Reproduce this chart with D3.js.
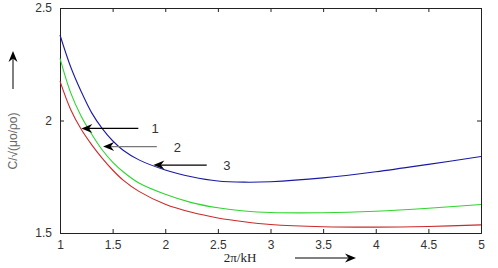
<!DOCTYPE html>
<html>
<head>
<meta charset="utf-8">
<script src="https://cdn.jsdelivr.net/npm/d3@7"></script>
<style>
  body { margin: 0; background: #fff; }
  svg { display: block; }
</style>
</head>
<body>
<div class="chart"></div>
<script>
// values
const xs    = [1, 1.1, 1.2, 1.3, 1.4, 1.5, 1.6, 1.75, 2, 2.25, 2.5, 2.75, 3, 3.5, 4, 4.5, 5];
const curve3 = [2.38, 2.24, 2.13, 2.035, 1.965, 1.91, 1.868, 1.825, 1.78, 1.75, 1.731, 1.726, 1.728, 1.745, 1.772, 1.805, 1.84];
const curve2 = [2.276, 2.125, 2.02, 1.94, 1.87, 1.815, 1.772, 1.722, 1.672, 1.635, 1.612, 1.598, 1.591, 1.59, 1.597, 1.61, 1.627];
const curve1 = [2.175, 2.05, 1.962, 1.893, 1.833, 1.78, 1.735, 1.685, 1.628, 1.592, 1.567, 1.55, 1.538, 1.528, 1.526, 1.529, 1.536];

const xTicks = [1, 1.5, 2, 2.5, 3, 3.5, 4, 4.5, 5];
const yTicks = [1.5, 2, 2.5];

// arrow annotations: tip (x,y), tail x, label x
const notes = [
    {label: "1", tipX: 1.203, tipY: 1.965, tailX: 1.744, textX: 1.87, color: "#000"},
    {label: "2", tipX: 1.41, tipY: 1.884, tailX: 1.92, textX: 2.08, color: "#777"},
    {label: "3", tipX: 1.887, tipY: 1.802, tailX: 2.394, textX: 2.55, color: "#000"}
];

const series = [
    {name: "3", values: curve3, color: "#1a1aa6"},
    {name: "2", values: curve2, color: "#2ed62e"},
    {name: "1", values: curve1, color: "#cc2a2a"}
];

const W = 498, H = 268;
const margin = {top: 8, left: 60, right: 17, bottom: 35};
const width = W - margin.left - margin.right;
const height = H - margin.top - margin.bottom;

const x = d3.scaleLinear().domain([1, 5]).range([0, width]);
const y = d3.scaleLinear().domain([1.5, 2.5]).range([height, 0]);

const svg = d3.select(".chart").append("svg")
    .attr("width", W)
    .attr("height", H);

const g = svg.append("g")
    .attr("transform", `translate(${margin.left},${margin.top})`);

const tickFont = "'Liberation Sans', Arial, sans-serif";

// inward ticks on all four sides
g.append("g")
    .attr("transform", `translate(0,${height})`)
    .call(d3.axisBottom(x).tickValues(xTicks).tickSize(-4).tickPadding(7).tickFormat(d3.format("")));
g.append("g")
    .call(d3.axisTop(x).tickValues(xTicks).tickSize(-4).tickFormat(""));
g.append("g")
    .call(d3.axisLeft(y).tickValues(yTicks).tickSize(-4).tickPadding(8).tickFormat(d3.format("")));
g.append("g")
    .attr("transform", `translate(${width},0)`)
    .call(d3.axisRight(y).tickValues(yTicks).tickSize(-4).tickFormat(""));

g.selectAll(".domain").attr("stroke", "#222");
g.selectAll(".tick line").attr("stroke", "#222");
g.selectAll(".tick text")
    .attr("font-family", tickFont)
    .attr("font-size", 12)
    .attr("fill", "#333");

const line = d3.line()
    .x((d, i) => x(xs[i]))
    .y(d => y(d))
    .curve(d3.curveCatmullRom.alpha(0.5));

g.selectAll(".series")
    .data(series)
    .enter()
    .append("path")
    .attr("class", "series")
    .attr("fill", "none")
    .attr("stroke", d => d.color)
    .attr("stroke-width", 1.1)
    .attr("d", d => line(d.values));

// barbed arrow head pointing left, tip at (0,0)
const headLeft = "M0,0 L11,-4.5 L7.5,0 L11,4.5 Z";

const ann = g.selectAll(".note")
    .data(notes)
    .enter()
    .append("g")
    .attr("class", "note");

ann.append("line")
    .attr("x1", d => x(d.tipX) + 6)
    .attr("x2", d => x(d.tailX))
    .attr("y1", d => y(d.tipY))
    .attr("y2", d => y(d.tipY))
    .attr("stroke", d => d.color)
    .attr("stroke-width", 1.2);

ann.append("path")
    .attr("d", headLeft)
    .attr("transform", d => `translate(${x(d.tipX)},${y(d.tipY)})`)
    .attr("fill", "#000");

ann.append("text")
    .attr("x", d => x(d.textX))
    .attr("y", d => y(d.tipY))
    .attr("dy", "0.38em")
    .attr("font-family", tickFont)
    .attr("font-size", 13)
    .attr("fill", "#333")
    .text(d => d.label);

// x axis title with arrow
svg.append("text")
    .attr("x", 240)
    .attr("y", 262)
    .attr("text-anchor", "middle")
    .attr("font-family", "'Liberation Serif', 'Times New Roman', serif")
    .attr("font-size", 13)
    .attr("fill", "#222")
    .text("2π/kH");

svg.append("line")
    .attr("x1", 295).attr("x2", 348)
    .attr("y1", 258).attr("y2", 258)
    .attr("stroke", "#000");
svg.append("path")
    .attr("d", headLeft)
    .attr("transform", "translate(356,258) rotate(180)")
    .attr("fill", "#000");

// y axis title with arrow
svg.append("text")
    .attr("transform", "translate(17,141) rotate(-90)")
    .attr("text-anchor", "middle")
    .attr("font-family", tickFont)
    .attr("font-size", 12)
    .attr("fill", "#666")
    .text("C/√(μo/ρo)");

svg.append("line")
    .attr("x1", 13).attr("x2", 13)
    .attr("y1", 89).attr("y2", 58)
    .attr("stroke", "#000");
svg.append("path")
    .attr("d", headLeft)
    .attr("transform", "translate(13,51) rotate(90)")
    .attr("fill", "#000");
</script>
</body>
</html>
